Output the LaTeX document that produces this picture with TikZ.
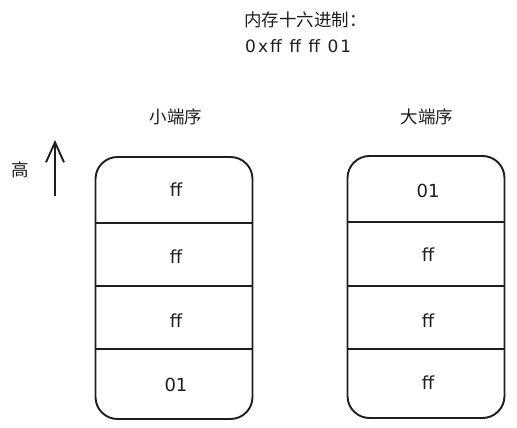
\documentclass[tikz,border=0pt]{standalone}
\usepackage{fontspec}
\setmainfont{DejaVu Sans}
\newfontfamily\hexfont{DejaVu Sans}[LetterSpace=12]
\newfontfamily\cjk{Noto Sans CJK SC}
\usetikzlibrary{arrows.meta}
\definecolor{ink}{HTML}{1E1E1E}
\begin{document}
\begin{tikzpicture}[x=1pt,y=-1pt,
  membox/.style={draw=ink, line width=1.9pt, rounded corners=22pt, minimum width=157pt, minimum height=262pt, inner sep=0pt, fill=white},
  divider/.style={draw=ink, line width=1.9pt},
  cell/.style={text=ink, font=\fontsize{18}{20}\selectfont, inner sep=0pt},
  label/.style={text=ink, font=\cjk\fontsize{17.5}{19}\selectfont, inner sep=0pt},
  latin/.style={text=ink, font=\hexfont\fontsize{17}{19}\selectfont, inner sep=0pt},
  hi/.style={draw=ink, line width=1.9pt, -{Straight Barb[length=20pt,width=18pt,line width=1.9pt]}}
]
\useasboundingbox (0,0) rectangle (517,428);
% title
\node[label, anchor=west] (title) at (244,20) {内存十六进制：};
\node[latin, anchor=west] (hex) at (245,46) {0xff ff ff 01};
% column labels
\node[label] (little) at (176,117) {小端序};
\node[label] (big) at (427,117) {大端序};
% height label and arrow
\node[label] (high) at (20,170) {高};
\coordinate (hbot) at (55,196);
\coordinate (htop) at (55,140);
\draw[hi] (hbot) -- (htop);
% left box
\node[membox] (lbox) at (174,288) {};
\draw[divider] (lbox.west |- 0,223) -- (lbox.east |- 0,223);
\draw[divider] (lbox.west |- 0,286) -- (lbox.east |- 0,286);
\draw[divider] (lbox.west |- 0,349) -- (lbox.east |- 0,349);
\node[cell] (l1) at (176,190) {ff};
\node[cell] (l2) at (176,257) {ff};
\node[cell] (l3) at (176,321) {ff};
\node[cell] (l4) at (176,385) {01};
% right box
\node[membox] (rbox) at (426,287) {};
\draw[divider] (rbox.west |- 0,222) -- (rbox.east |- 0,222);
\draw[divider] (rbox.west |- 0,286) -- (rbox.east |- 0,286);
\draw[divider] (rbox.west |- 0,349) -- (rbox.east |- 0,349);
\node[cell] (r1) at (428,191) {01};
\node[cell] (r2) at (428,255) {ff};
\node[cell] (r3) at (428,321) {ff};
\node[cell] (r4) at (428,383) {ff};
\end{tikzpicture}
\end{document}
